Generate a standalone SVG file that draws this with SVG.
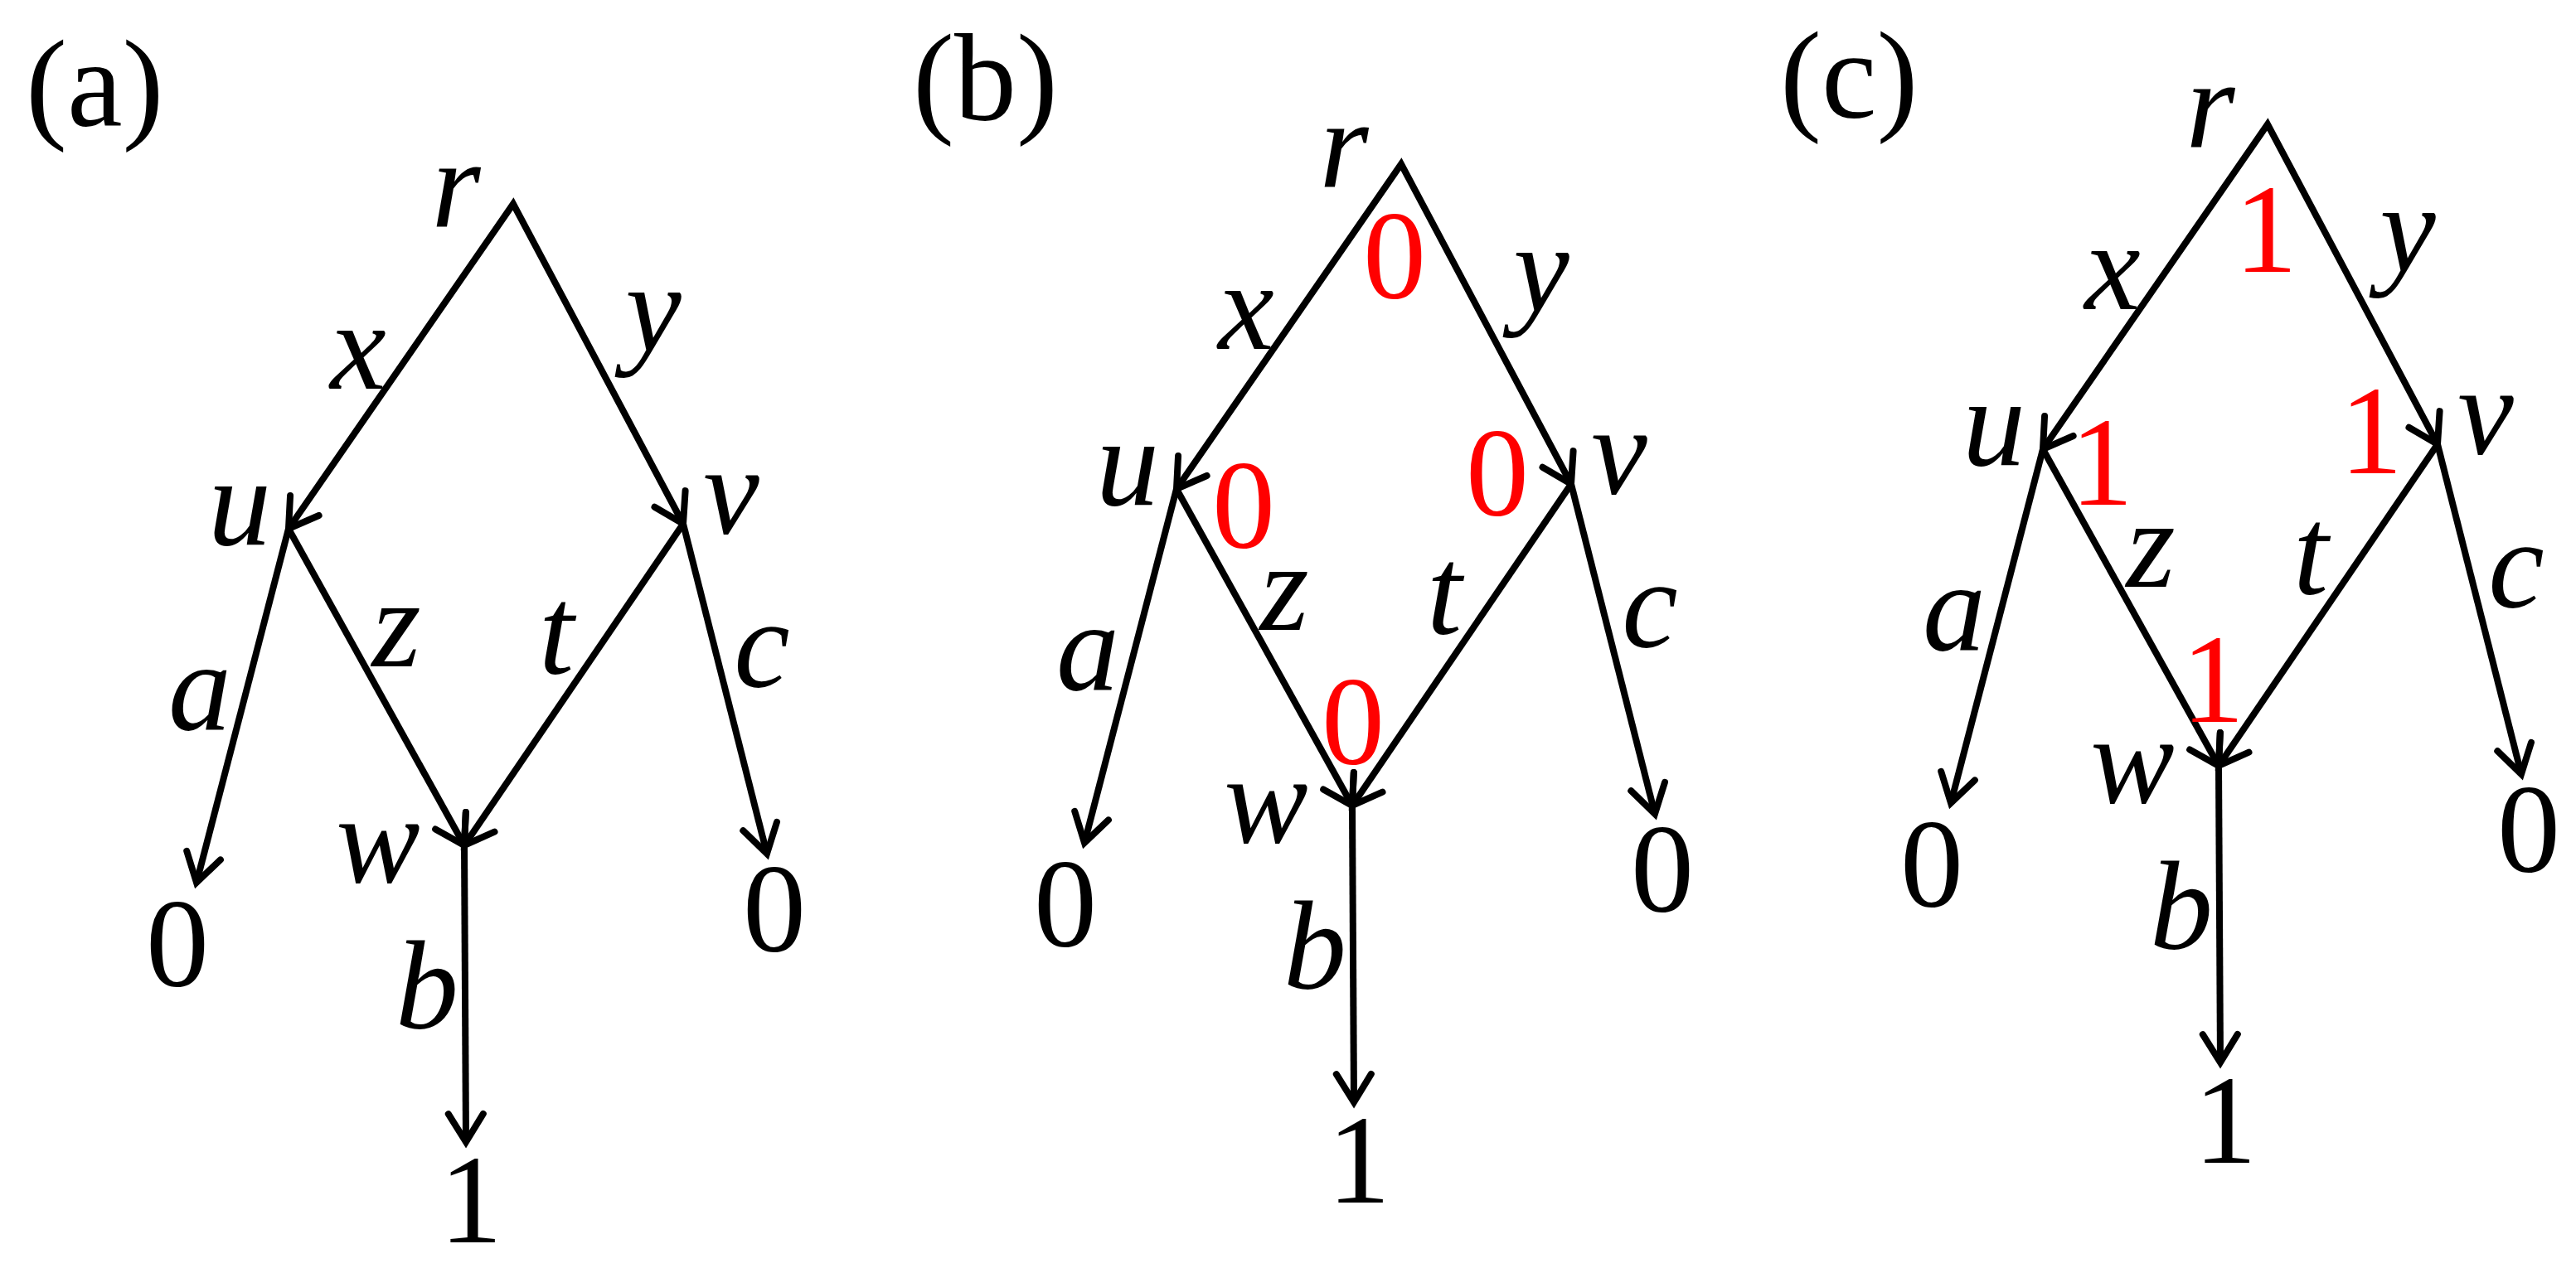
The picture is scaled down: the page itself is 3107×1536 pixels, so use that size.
<svg xmlns="http://www.w3.org/2000/svg" width="3107" height="1536" viewBox="0 0 3107 1536">
  <style>
    .bg { fill: #ffffff; }
    .edge { fill: none; stroke: #000000; stroke-width: 8; stroke-linejoin: miter; marker-end: url(#arr); }
    .edge2 { marker-start: url(#arr); }
    .lbl { font-family: "Liberation Serif", "Times New Roman", serif; font-size: 152px; font-style: italic; fill: #000000; text-anchor: middle; }
    .num { font-family: "Liberation Serif", "Times New Roman", serif; font-size: 152px; fill: #000000; text-anchor: middle; }
    .red { font-family: "Liberation Serif", "Times New Roman", serif; font-size: 152px; fill: #ff0000; text-anchor: middle; }
    .panel { font-family: "Liberation Serif", "Times New Roman", serif; font-size: 150px; fill: #000000; }
  </style>
  <defs>
    <marker id="arr" markerUnits="userSpaceOnUse" markerWidth="90" markerHeight="90" viewBox="-45 -45 90 90" refX="0" refY="0" orient="auto-start-reverse" overflow="visible">
      <path d="M -34 -21 L 0 0 L -34 21" fill="none" stroke="#000000" stroke-width="8" stroke-linecap="round" stroke-linejoin="miter"/>
    </marker>
  </defs>
  <rect class="bg" x="0" y="0" width="3107" height="1536"/>

  <!-- Panel labels -->
  <text id="label-a" class="panel" x="31" y="152">(a)</text>
  <text id="label-b" class="panel" x="1101" y="145">(b)</text>
  <text id="label-c" class="panel" x="2147" y="142">(c)</text>

  <!-- Panel (a) -->
  <g id="panel-a" transform="translate(0,0)">
    <g id="a-connectors">
      <path class="edge edge2" d="M348,638 L619,246 L824,632"/>
      <path class="edge" d="M348,638 L560,1020"/>
      <path class="edge" d="M824,632 L560,1020"/>
      <path class="edge" d="M348,638 L237,1065"/>
      <path class="edge" d="M824,632 L925,1030"/>
      <path class="edge" d="M560,1020 L562,1378"/>
    </g>
    <g id="a-edge-labels">
      <text class="lbl" x="432" y="469">x</text>
      <text class="lbl" x="788" y="423">y</text>
      <text class="lbl" x="478" y="804">z</text>
      <text class="lbl" x="671" y="813">t</text>
      <text class="lbl" x="241" y="880">a</text>
      <text class="lbl" x="919" y="829">c</text>
      <text class="lbl" x="515" y="1241">b</text>
    </g>
    <g id="a-node-r"><text class="lbl" x="550" y="274">r</text></g>
    <g id="a-node-u"><text class="lbl" x="289" y="657">u</text></g>
    <g id="a-node-v"><text class="lbl" x="882" y="644">v</text></g>
    <g id="a-node-w"><text class="lbl" x="456" y="1065">w</text></g>
    <g id="a-node-0a"><text class="num" x="214" y="1190">0</text></g>
    <g id="a-node-0c"><text class="num" x="934" y="1148">0</text></g>
    <g id="a-node-1"><text class="num" x="568" y="1499">1</text></g>
  </g>

  <!-- Panel (b) -->
  <g id="panel-b" transform="translate(1071,-48)">
    <g id="b-connectors">
      <path class="edge edge2" d="M348,638 L619,246 L824,632"/>
      <path class="edge" d="M348,638 L560,1020"/>
      <path class="edge" d="M824,632 L560,1020"/>
      <path class="edge" d="M348,638 L237,1065"/>
      <path class="edge" d="M824,632 L925,1030"/>
      <path class="edge" d="M560,1020 L562,1378"/>
    </g>
    <g id="b-edge-labels">
      <text class="lbl" x="432" y="469">x</text>
      <text class="lbl" x="788" y="423">y</text>
      <text class="lbl" x="478" y="808">z</text>
      <text class="lbl" x="671" y="813">t</text>
      <text class="lbl" x="241" y="880">a</text>
      <text class="lbl" x="919" y="829">c</text>
      <text class="lbl" x="515" y="1241">b</text>
    </g>
    <g id="b-node-r"><text class="lbl" x="550" y="274">r</text><text class="red" x="611" y="408">0</text></g>
    <g id="b-node-u"><text class="lbl" x="289" y="657">u</text><text class="red" x="429" y="709">0</text></g>
    <g id="b-node-v"><text class="lbl" x="882" y="644">v</text><text class="red" x="735" y="670">0</text></g>
    <g id="b-node-w"><text class="lbl" x="456" y="1065">w</text><text class="red" x="561" y="970">0</text></g>
    <g id="b-node-0a"><text class="num" x="214" y="1190">0</text></g>
    <g id="b-node-0c"><text class="num" x="934" y="1148">0</text></g>
    <g id="b-node-1"><text class="num" x="568" y="1499">1</text></g>
  </g>

  <!-- Panel (c) -->
  <g id="panel-c" transform="translate(2116,-96)">
    <g id="c-connectors">
      <path class="edge edge2" d="M348,638 L619,246 L824,632"/>
      <path class="edge" d="M348,638 L560,1020"/>
      <path class="edge" d="M824,632 L560,1020"/>
      <path class="edge" d="M348,638 L237,1065"/>
      <path class="edge" d="M824,632 L925,1030"/>
      <path class="edge" d="M560,1020 L562,1378"/>
    </g>
    <g id="c-edge-labels">
      <text class="lbl" x="432" y="469">x</text>
      <text class="lbl" x="788" y="423">y</text>
      <text class="lbl" x="478" y="804">z</text>
      <text class="lbl" x="671" y="813">t</text>
      <text class="lbl" x="241" y="880">a</text>
      <text class="lbl" x="919" y="829">c</text>
      <text class="lbl" x="515" y="1241">b</text>
    </g>
    <g id="c-node-r"><text class="lbl" x="550" y="274">r</text><text class="red" x="617" y="424">1</text></g>
    <g id="c-node-u"><text class="lbl" x="289" y="657">u</text><text class="red" x="419" y="705">1</text></g>
    <g id="c-node-v"><text class="lbl" x="882" y="644">v</text><text class="red" x="744" y="667">1</text></g>
    <g id="c-node-w"><text class="lbl" x="456" y="1065">w</text><text class="red" x="553" y="967">1</text></g>
    <g id="c-node-0a"><text class="num" x="214" y="1190">0</text></g>
    <g id="c-node-0c"><text class="num" x="934" y="1148">0</text></g>
    <g id="c-node-1"><text class="num" x="568" y="1499">1</text></g>
  </g>
</svg>
